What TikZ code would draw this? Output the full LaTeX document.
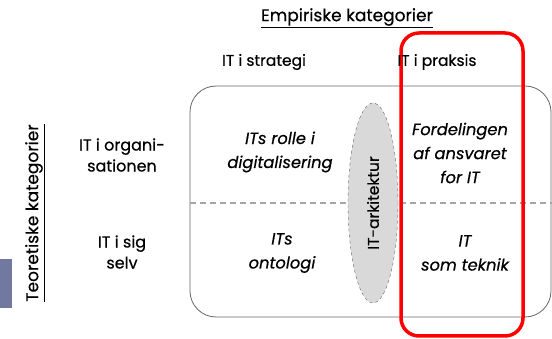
\documentclass[tikz,border=0pt]{standalone}
\usepackage{fontspec}
\setmainfont{Poppins}[FakeBold=0.5]
\usetikzlibrary{shapes.geometric}
\begin{document}
\begin{tikzpicture}[x=1pt,y=-1pt,
  lbl/.style={font=\fontsize{16}{21}\selectfont, align=center, inner sep=0pt},
  head/.style={font=\fontsize{15.5}{20}\selectfont, align=center, inner sep=0pt},
  big/.style={font=\fontsize{17}{20}\selectfont, align=center, inner sep=0pt},
  cell/.style={font=\fontsize{16.3}{24}\selectfont\itshape, align=center, inner sep=0pt}]
\useasboundingbox (0,0) rectangle (552,339);
\fill[white] (0,0) rectangle (552,339);
% main rounded box
\draw[gray!80!black, line width=0.8pt, rounded corners=26pt] (190,86) rectangle (551,317);
\draw[gray!70, dashed, line width=1.2pt, dash pattern=on 6pt off 4pt] (190,203) -- (552,203);
\node[ellipse, draw=gray!80!black, dashed, fill=gray!30, minimum width=50pt, minimum height=200pt, inner sep=0pt] (arch) at (373,203) {};
\node[head, rotate=90] (archt) at (373,203) {IT-arkitektur};
% red box
\draw[red, line width=3.5pt, rounded corners=18pt] (401,33) rectangle (523,336);
% headers
\node[big] (emp) at (347,18) {\underline{Empiriske kategorier}};
\node[head] (strat) at (264,62) {IT i strategi};
\node[head] (prak) at (437,62) {IT i praksis};
\node[lbl] (org) at (122,155) {IT i organi-\\sationen};
\node[lbl] (sig) at (122,252) {IT i sig\\selv};
\node[big, rotate=90] (teo) at (35,213) {\underline{Teoretiske kategorier}};
\fill[fill={rgb,255:red,113;green,121;blue,160}] (0,259) rectangle (12,308);
% cells
\node[cell] (c1) at (280,152) {ITs rolle i\\digitalisering};
\node[cell] (c2) at (282,253) {ITs\\ontologi};
\node[cell] (c3) at (460,153) {Fordelingen\\af ansvaret\\for IT};
\node[cell] (c4) at (465,253) {IT\\som teknik};
\end{tikzpicture}
\end{document}
